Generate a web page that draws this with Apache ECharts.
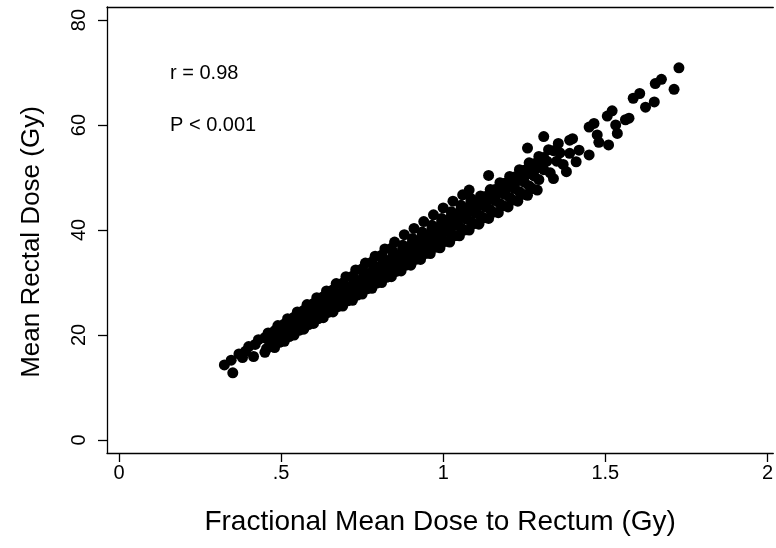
<!DOCTYPE html>
<html>
<head>
<meta charset="utf-8">
<script src="https://cdn.jsdelivr.net/npm/echarts@6/dist/echarts.min.js"></script>
<style>html,body{margin:0;padding:0;background:#fff}#c{width:776px;height:548px}</style>
</head>
<body>
<div id="c"></div>
<script>
// ---- tick labels ----
const xTickValues = [0, 0.5, 1, 1.5, 2];
const xTickLabels = ['0', '.5', '1', '1.5', '2'];
const yTickValues = [0, 20, 40, 60, 80];
const xTitle = 'Fractional Mean Dose to Rectum (Gy)';
const yTitle = 'Mean Rectal Dose (Gy)';
const annotations = ['r = 0.98', 'P < 0.001'];

// ---- data (x = fractional mean dose, y = mean rectal dose) ----
const lowerLeft = [[0.325,14.3],[0.346,15.2],[0.351,12.8],[0.381,15.7],[0.415,15.9]];
const row37 = [[0.45,16.7],[0.48,17.6],[0.51,18.8],[0.54,20.0],[0.57,21.1],[0.60,22.2],[0.63,23.3],[0.66,24.4],[0.69,25.5],[0.72,26.6],[0.75,27.8],[0.78,28.9],[0.81,30.0],[0.84,31.1],[0.87,32.2],[0.90,33.3],[0.93,34.4],[0.96,35.5],[0.99,36.6],[1.02,37.7],[1.05,38.9],[1.08,40.0],[1.11,41.1],[1.14,42.2],[1.17,43.3],[1.20,44.4],[1.23,45.5],[1.26,46.6],[1.29,47.6],[1.34,49.8],[1.38,51.1],[1.41,53.0],[1.45,54.3],[1.51,56.2]];
const row37b = [[0.495,18.6],[0.525,19.7],[0.555,20.9],[0.585,22.0],[0.615,23.1],[0.645,24.3],[0.675,25.4],[0.705,26.5],[0.735,27.6],[0.765,28.8],[0.795,29.9],[0.825,31.0],[0.855,32.1],[0.885,33.3],[0.915,34.4],[0.945,35.5],[0.975,36.7],[1.005,37.8],[1.035,38.9],[1.065,40.0],[1.095,41.2],[1.125,42.3],[1.155,43.4],[1.185,44.6],[1.215,45.7],[1.245,46.8],[1.275,47.9]];
const row38 = [[0.455,17.4],[0.485,18.6],[0.515,19.7],[0.545,20.9],[0.575,22.0],[0.605,23.2],[0.635,24.3],[0.665,25.5],[0.695,26.6],[0.725,27.8],[0.755,28.9],[0.785,30.1],[0.815,31.2],[0.845,32.4],[0.875,33.5],[0.905,34.7],[0.935,35.8],[0.965,37.0],[0.995,38.1],[1.025,39.3],[1.055,40.4],[1.085,41.6],[1.115,42.7],[1.145,43.9],[1.175,45.0],[1.205,46.2],[1.235,47.3],[1.265,48.4],[1.295,49.6],[1.33,50.9],[1.37,52.5],[1.419,55.2],[1.48,56.7],[1.537,58.4]];
const row39 = [[0.47,18.5],[0.50,19.7],[0.53,20.8],[0.56,22.0],[0.59,23.2],[0.62,24.4],[0.65,25.5],[0.68,26.7],[0.71,27.9],[0.74,29.1],[0.77,30.3],[0.80,31.4],[0.83,32.6],[0.86,33.8],[0.89,35.0],[0.92,36.2],[0.95,37.3],[0.98,38.5],[1.01,39.7],[1.04,40.9],[1.07,42.1],[1.10,43.2],[1.13,44.4],[1.16,45.6],[1.19,46.8],[1.22,47.9],[1.25,49.1],[1.28,50.3],[1.31,51.5],[1.35,53.1],[1.39,54.6],[1.475,58.1],[1.532,60.0],[1.562,61.0],[1.573,61.3],[1.624,63.4],[1.651,64.4],[1.712,66.8]];
const row40 = [[0.475,19.1],[0.505,20.3],[0.535,21.5],[0.565,22.7],[0.595,23.9],[0.625,25.1],[0.655,26.3],[0.685,27.5],[0.715,28.7],[0.745,29.9],[0.775,31.2],[0.805,32.4],[0.835,33.6],[0.865,34.8],[0.895,36.0],[0.925,37.2],[0.955,38.4],[0.985,39.6],[1.015,40.8],[1.045,42.0],[1.075,43.2],[1.105,44.4],[1.135,45.6],[1.165,46.8],[1.195,48.0],[1.225,49.2],[1.255,50.5],[1.285,51.7],[1.32,53.1],[1.36,54.7],[1.399,57.4]];
const row40b = [[0.49,19.9],[0.52,21.2],[0.55,22.4],[0.58,23.6],[0.61,24.8],[0.64,26.0],[0.67,27.3],[0.70,28.5],[0.73,29.7],[0.76,30.9],[0.79,32.2],[0.82,33.4],[0.85,34.6],[0.88,35.8],[0.91,37.0],[0.94,38.3],[0.97,39.5],[1.00,40.7],[1.03,41.9],[1.06,43.1],[1.09,44.4],[1.12,45.6],[1.15,46.8],[1.18,48.0],[1.21,49.2],[1.24,50.5],[1.27,51.7],[1.30,52.9]];
const row41 = [[0.47,19.3],[0.50,20.6],[0.53,21.8],[0.56,23.0],[0.59,24.2],[0.62,25.5],[0.65,26.7],[0.68,27.9],[0.71,29.2],[0.74,30.4],[0.77,31.6],[0.80,32.9],[0.83,34.1],[0.86,35.3],[0.89,36.6],[0.92,37.8],[0.95,39.0],[0.98,40.3],[1.01,41.5],[1.04,42.7],[1.07,44.0],[1.10,45.2],[1.13,46.4],[1.16,47.7],[1.19,48.9],[1.22,50.1],[1.25,51.4],[1.28,52.6],[1.31,53.8],[1.34,55.1],[1.39,57.1],[1.45,59.6],[1.465,60.3],[1.506,61.7],[1.521,62.7],[1.586,65.1],[1.606,66.0],[1.654,67.9],[1.673,68.7],[1.727,70.9]];
const row41b = [[0.485,20.2],[0.515,21.5],[0.545,22.7],[0.575,24.0],[0.605,25.2],[0.635,26.5],[0.665,27.7],[0.695,29.0],[0.725,30.2],[0.755,31.5],[0.785,32.7],[0.815,34.0],[0.845,35.2],[0.875,36.5],[0.905,37.7],[0.935,39.0],[0.965,40.2],[0.995,41.5],[1.025,42.7],[1.055,44.0],[1.085,45.2],[1.115,46.5],[1.145,47.7],[1.175,49.0],[1.205,50.2],[1.235,51.5],[1.265,52.8],[1.295,54.0],[1.325,55.3],[1.355,56.5]];
const row42 = [[0.455,19.3],[0.485,20.6],[0.515,21.8],[0.545,23.1],[0.575,24.4],[0.605,25.7],[0.635,26.9],[0.665,28.2],[0.695,29.5],[0.725,30.7],[0.755,32.0],[0.785,33.3],[0.815,34.6],[0.845,35.8],[0.875,37.1],[0.905,38.4],[0.935,39.6],[0.965,40.9],[0.995,42.2],[1.025,43.5],[1.055,44.7],[1.085,46.0]];
const row43 = [[0.39,16.9],[0.42,18.2],[0.45,19.5],[0.48,20.8],[0.51,22.1],[0.54,23.4],[0.57,24.7],[0.60,26.0],[0.63,27.3],[0.66,28.6],[0.69,29.9],[0.72,31.2],[0.75,32.6],[0.78,33.9],[0.81,35.2],[0.84,36.5]];
const row44 = [[0.37,16.4],[0.40,17.8],[0.43,19.1],[0.46,20.4],[0.49,21.8],[0.52,23.1],[0.55,24.4],[0.58,25.8],[0.61,27.1],[0.64,28.4],[0.67,29.8],[0.70,31.1],[0.73,32.4],[0.76,33.7],[0.79,35.0],[0.82,36.4],[0.85,37.7],[0.88,39.1],[0.91,40.3],[0.94,41.6],[0.97,42.9],[1.00,44.2],[1.03,45.5],[1.06,46.7],[1.08,47.6],[1.14,50.4],[1.26,55.6],[1.31,57.8]];

const allPoints = [].concat(lowerLeft, row37, row37b, row38, row39, row40, row40b, row41, row41b, row42, row43, row44);

const FONT = '"Liberation Sans", Arial, Helvetica, sans-serif';
const X_MIN = -0.037, X_MAX = 2.018;
const chart = echarts.init(document.getElementById('c'), null, {renderer: 'canvas'});
chart.setOption({
  animation: false,
  backgroundColor: '#fff',
  textStyle: {fontFamily: FONT, color: '#000'},
  grid: {left: 107, top: 7, right: 0, bottom: 95, show: false},
  xAxis: [{
    type: 'value', min: X_MIN, max: X_MAX, position: 'bottom',
    name: xTitle, nameLocation: 'middle', nameGap: 55,
    nameTextStyle: {fontSize: 28, color: '#000', fontFamily: FONT},
    axisLine: {show: true, onZero: false, lineStyle: {color: '#000', width: 1.3}},
    axisTick: {show: true, length: 9, customValues: xTickValues, lineStyle: {color: '#000', width: 1.3}},
    axisLabel: {show: true, customValues: xTickValues, fontSize: 20, color: '#000', fontFamily: FONT, margin: 10,
      formatter: function (v) { const i = xTickValues.indexOf(v); return i >= 0 ? xTickLabels[i] : ''; }},
    splitLine: {show: false}
  }, {
    type: 'value', min: X_MIN, max: X_MAX, position: 'top',
    axisLine: {show: true, onZero: false, lineStyle: {color: '#000', width: 1.3}},
    axisTick: {show: false}, axisLabel: {show: false}, splitLine: {show: false}
  }],
  yAxis: {
    type: 'value', min: -2.48, max: 82.48,
    name: yTitle, nameLocation: 'middle', nameGap: 62,
    nameTextStyle: {fontSize: 26, color: '#000', fontFamily: FONT, padding: [0, 0, 0, -24]},
    axisLine: {show: true, onZero: false, lineStyle: {color: '#000', width: 1.3}},
    axisTick: {show: true, length: 9, customValues: yTickValues, lineStyle: {color: '#000', width: 1.3}},
    axisLabel: {show: true, customValues: yTickValues, rotate: 90, fontSize: 20, color: '#000', fontFamily: FONT, margin: 18},
    splitLine: {show: false}
  },
  graphic: [
    {type: 'text', left: 170, top: 63, style: {text: annotations[0], font: '20px ' + FONT, fill: '#000'}},
    {type: 'text', left: 170, top: 115, style: {text: annotations[1], font: '20px ' + FONT, fill: '#000'}}
  ],
  series: [{
    type: 'scatter',
    xAxisIndex: 0,
    data: allPoints,
    symbol: 'circle',
    symbolSize: 11,
    itemStyle: {color: '#000', opacity: 1},
    emphasis: {disabled: true}
  }]
});
</script>
</body>
</html>
